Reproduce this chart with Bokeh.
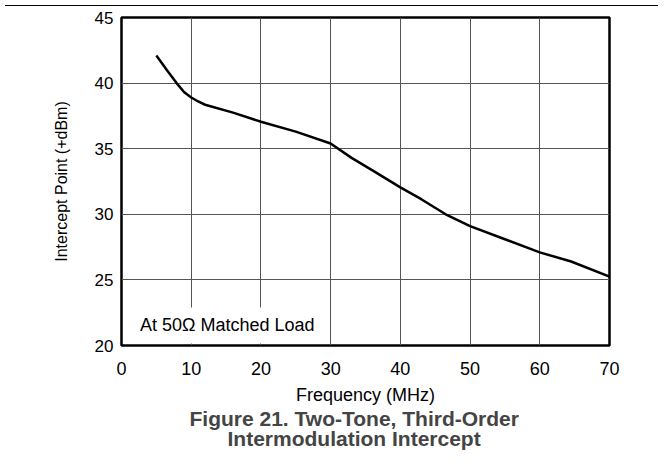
from bokeh.plotting import figure
from bokeh.models import BoxAnnotation, Label, Title, FixedTicker, Div
from bokeh.layouts import column
from bokeh.embed import file_html
from bokeh.resources import INLINE

freq_mhz = [5, 6.5, 7.9, 9, 10, 11, 12, 16, 20, 25, 30, 33, 36, 40, 43, 46.5, 50, 55, 60, 64.5, 70]
intercept_dbm = [42.1, 41.0, 40.0, 39.3, 38.9, 38.6, 38.35, 37.75, 37.05, 36.3, 35.4, 34.3, 33.35,
                 32.05, 31.15, 30.0, 29.1, 28.1, 27.1, 26.4, 25.25]
x_ticks = [0, 10, 20, 30, 40, 50, 60, 70]
y_ticks = [20, 25, 30, 35, 40, 45]

FONT = "Liberation Sans"

p = figure(width=653, height=462, output_backend="svg", toolbar_location=None,
           x_range=(0, 70), y_range=(20, 45),
           min_border_left=121, min_border_right=44, min_border_top=14, min_border_bottom=120)
p.styles = {"margin-top": "-8px"}
p.border_fill_alpha = 0

p.line(freq_mhz, intercept_dbm, line_color="black", line_width=2.5)

p.xaxis.ticker = FixedTicker(ticks=x_ticks)
p.yaxis.ticker = FixedTicker(ticks=y_ticks)
for ax in (p.xaxis, p.yaxis):
    ax.axis_line_color = None
    ax.major_tick_line_color = None
    ax.minor_tick_line_color = None
    ax.major_tick_out = 0
    ax.major_tick_in = 0
    ax.major_label_text_font = FONT
    ax.major_label_text_color = "black"
    ax.axis_label_text_font = FONT
    ax.axis_label_text_font_style = "normal"
    ax.axis_label_text_color = "black"
p.xaxis.major_label_text_font_size = "18px"
p.xaxis.axis_label_text_font_size = "18px"
p.yaxis.major_label_text_font_size = "17px"
p.yaxis.axis_label_text_font_size = "16px"
p.xaxis.axis_label = "Frequency (MHz)"
p.yaxis.axis_label = "Intercept Point (+dBm)"
p.xaxis.major_label_standoff = 16
p.xaxis.axis_label_standoff = 7
p.yaxis.major_label_standoff = 8
p.yaxis.axis_label_standoff = 22

p.grid.grid_line_color = "#555555"
p.grid.grid_line_width = 1
p.grid.grid_line_alpha = 1

p.outline_line_color = "black"
p.outline_line_width = 2.5
p.outline_line_alpha = 1

box = BoxAnnotation(left=1.15, right=29.0, bottom=20.15, top=22.9,
                    fill_color="white", fill_alpha=1, line_color=None, level="underlay")
p.add_layout(box)
p.add_layout(Label(x=2.65, y=21.55, text="At 50\u03a9 Matched Load", text_font=FONT,
                   text_font_size="18px", text_baseline="middle", text_color="black"))

t1 = Title(text="Figure 21. Two-Tone, Third-Order", align="left", offset=68,
           text_font=FONT, text_font_size="21px", text_font_style="bold", standoff=-6)
t2 = Title(text="Intermodulation Intercept", align="left", offset=106,
           text_font=FONT, text_font_size="21px", text_font_style="bold", standoff=-4)
p.add_layout(t1, "below")
p.add_layout(t2, "below")

top_rule = Div(text="", width=653, height=1, styles={"background-color": "black"})

layout = column(top_rule, p, spacing=0)
open("out.html", "w").write(file_html(layout, INLINE))
